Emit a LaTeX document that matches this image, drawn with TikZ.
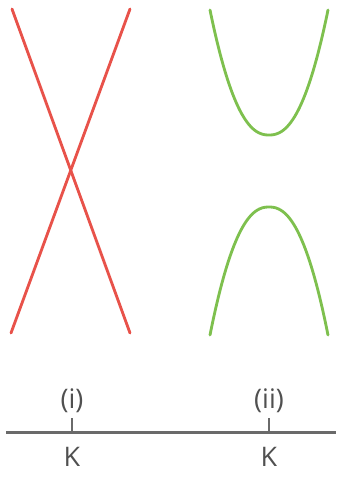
\documentclass[tikz,border=0pt]{standalone}
\usepackage{fontspec}
\setsansfont{Open Sans}
\usepackage{xcolor}
\usetikzlibrary{positioning,calc}
\definecolor{bandred}{HTML}{E8524A}
\definecolor{bandgreen}{HTML}{7EC04E}
\definecolor{axisgray}{HTML}{6A6A6A}
\definecolor{textgray}{HTML}{505050}
\tikzset{
  band/.style={line width=0.85mm, line cap=round},
  axis/.style={draw=axisgray, line width=0.9mm},
  tick/.style={draw=axisgray, line width=0.6mm},
  lbl/.style={font=\sffamily\fontsize{23}{26}\selectfont, text=textgray, inner sep=1pt},
}
\begin{document}
\begin{tikzpicture}[x=0.3mm, y=-0.3mm]
\useasboundingbox (0,0) rectangle (338,481);
% (i) crossing bands
\coordinate (ia) at (12,9);
\coordinate (ib) at (130,333);
\coordinate (ic) at (130,9);
\coordinate (id) at (11,333);
\draw[band, bandred] (ia) -- (ib);
\draw[band, bandred] (ic) -- (id);
% (ii) gapped bands
\draw[band, bandgreen] plot[domain=210:328, samples=80, smooth]
  (\x, {135 - 125*(abs(\x-269)/59 + 0.0001)^2.3});
\draw[band, bandgreen] plot[domain=210:328, samples=80, smooth]
  (\x, {207 + 128*(abs(\x-269)/59 + 0.0001)^2.3});
% k axis
\coordinate (al) at (6,432);
\coordinate (ar) at (336,432);
\draw[axis] (al) -- (ar);
\coordinate (ki) at (72,432);
\coordinate (kii) at (269,432);
\coordinate (ti) at (72,418);
\coordinate (tii) at (269,418);
\draw[tick] (ki) -- (ti);
\draw[tick] (kii) -- (tii);
\node[lbl, above=3pt of ti] (li) {(i)};
\node[lbl, above=3pt of tii] (lii) {(ii)};
\node[lbl, below=12pt of ki] (kli) {K};
\node[lbl, below=12pt of kii] (klii) {K};
\end{tikzpicture}
\end{document}
